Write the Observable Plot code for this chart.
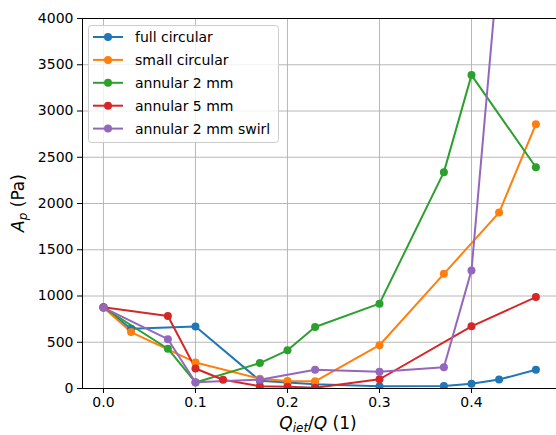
<!DOCTYPE html>
<html><head><meta charset="utf-8">
<script src="https://cdn.jsdelivr.net/npm/d3@7"></script>
<script src="https://cdn.jsdelivr.net/npm/@observablehq/plot@0.6"></script>
<style>body{margin:0;background:#fff}</style>
</head><body><div id="chart"></div>
<script>
// Data
const seriesNames = ["full circular", "small circular", "annular 2 mm", "annular 5 mm", "annular 2 mm swirl"];
const seriesColors = ["#1f77b4", "#ff7f0e", "#2ca02c", "#d62728", "#9467bd"];

const fullCircularX = [0, 0.03, 0.1, 0.17, 0.2, 0.23, 0.3, 0.37, 0.4, 0.43, 0.47];
const fullCircularY = [875, 645, 670, 85, 65, 45, 25, 28, 52, 97, 202];

const smallCircularX = [0, 0.03, 0.1, 0.17, 0.2, 0.23, 0.3, 0.37, 0.43, 0.47];
const smallCircularY = [875, 610, 282, 105, 80, 78, 468, 1240, 1902, 2858];

const annular2X = [0, 0.07, 0.1, 0.17, 0.2, 0.23, 0.3, 0.37, 0.4, 0.47];
const annular2Y = [875, 430, 65, 275, 413, 665, 917, 2339, 3388, 2392];

const annular5X = [0, 0.07, 0.1, 0.13, 0.17, 0.2, 0.23, 0.3, 0.4, 0.47];
const annular5Y = [878, 784, 216, 95, 25, 20, 8, 100, 672, 988];

const swirlX = [0, 0.07, 0.1, 0.17, 0.23, 0.3, 0.37, 0.4, 0.43];
const swirlY = [875, 533, 68, 95, 202, 182, 230, 1277, 4680];

const xTicks = [0, 0.1, 0.2, 0.3, 0.4];
const yTicks = [0, 500, 1000, 1500, 2000, 2500, 3000, 3500, 4000];

const seriesXs = [fullCircularX, smallCircularX, annular2X, annular5X, swirlX];
const seriesYs = [fullCircularY, smallCircularY, annular2Y, annular5Y, swirlY];

const rows = [];
seriesNames.forEach((name, i) => {
  seriesXs[i].forEach((x, j) => rows.push({series: name, x, y: seriesYs[i][j]}));
});

const plot = Plot.plot({
  width: 556, height: 435,
  marginLeft: 82, marginRight: 0, marginTop: 18, marginBottom: 47,
  style: {fontFamily: "DejaVu Sans", fontSize: "14px", background: "white", color: "#000"},
  x: {domain: [-0.0228, 0.4924]},
  y: {domain: [0, 4000]},
  color: {domain: seriesNames, range: seriesColors},
  marks: [
    Plot.gridX(xTicks, {stroke: "#b0b0b0", strokeOpacity: 1, strokeWidth: 0.9}),
    Plot.gridY(yTicks, {stroke: "#b0b0b0", strokeOpacity: 1, strokeWidth: 0.9}),
    Plot.line(rows, {x: "x", y: "y", z: "series", stroke: "series", strokeWidth: 2, clip: true}),
    Plot.dot(rows, {x: "x", y: "y", fill: "series", r: 4, clip: true}),
    Plot.ruleY([0, 4000], {stroke: "#000", strokeWidth: 1}),
    Plot.ruleX([-0.0228], {stroke: "#000", strokeWidth: 1}),
    Plot.axisX(xTicks, {tickFormat: d3.format(".1f"), tickSize: 5, tickPadding: 4, label: null, fontSize: 14}),
    Plot.axisY(yTicks, {tickFormat: d3.format("d"), tickSize: 5, tickPadding: 4, label: null, fontSize: 14})
  ]
});

const svg = d3.select(plot);

// Axis labels
const xl = svg.append("text").attr("x", 318).attr("y", 429).attr("text-anchor", "middle")
  .attr("font-size", 17).attr("fill", "#000");
xl.append("tspan").attr("font-style", "italic").text("Q");
xl.append("tspan").attr("font-style", "italic").attr("font-size", 12).attr("dy", 3).text("iet");
xl.append("tspan").attr("dy", -3).text("/");
xl.append("tspan").attr("font-style", "italic").text("Q");
xl.append("tspan").text(" (1)");

const yl = svg.append("text").attr("transform", "translate(24,203) rotate(-90)").attr("text-anchor", "middle")
  .attr("font-size", 17).attr("fill", "#000");
yl.append("tspan").attr("font-style", "italic").text("A");
yl.append("tspan").attr("font-style", "italic").attr("font-size", 12).attr("dy", 3).text("p");
yl.append("tspan").attr("dy", -3).text(" (Pa)");

// Legend
const lg = svg.append("g").attr("text-anchor", "start");
lg.append("rect").attr("x", 88.5).attr("y", 25.5).attr("width", 190).attr("height", 117).attr("rx", 3)
  .attr("fill", "white").attr("fill-opacity", 0.8).attr("stroke", "#cccccc");
seriesNames.forEach((name, i) => {
  const cy = 37 + i * 22.9;
  lg.append("line").attr("x1", 93).attr("x2", 123).attr("y1", cy).attr("y2", cy)
    .attr("stroke", seriesColors[i]).attr("stroke-width", 2);
  lg.append("circle").attr("cx", 108).attr("cy", cy).attr("r", 4).attr("fill", seriesColors[i]);
  lg.append("text").attr("x", 135).attr("y", cy + 5).attr("text-anchor", "start")
    .attr("font-size", 14).attr("fill", "#000").text(name);
});

document.getElementById("chart").appendChild(plot);
</script>
</body></html>
